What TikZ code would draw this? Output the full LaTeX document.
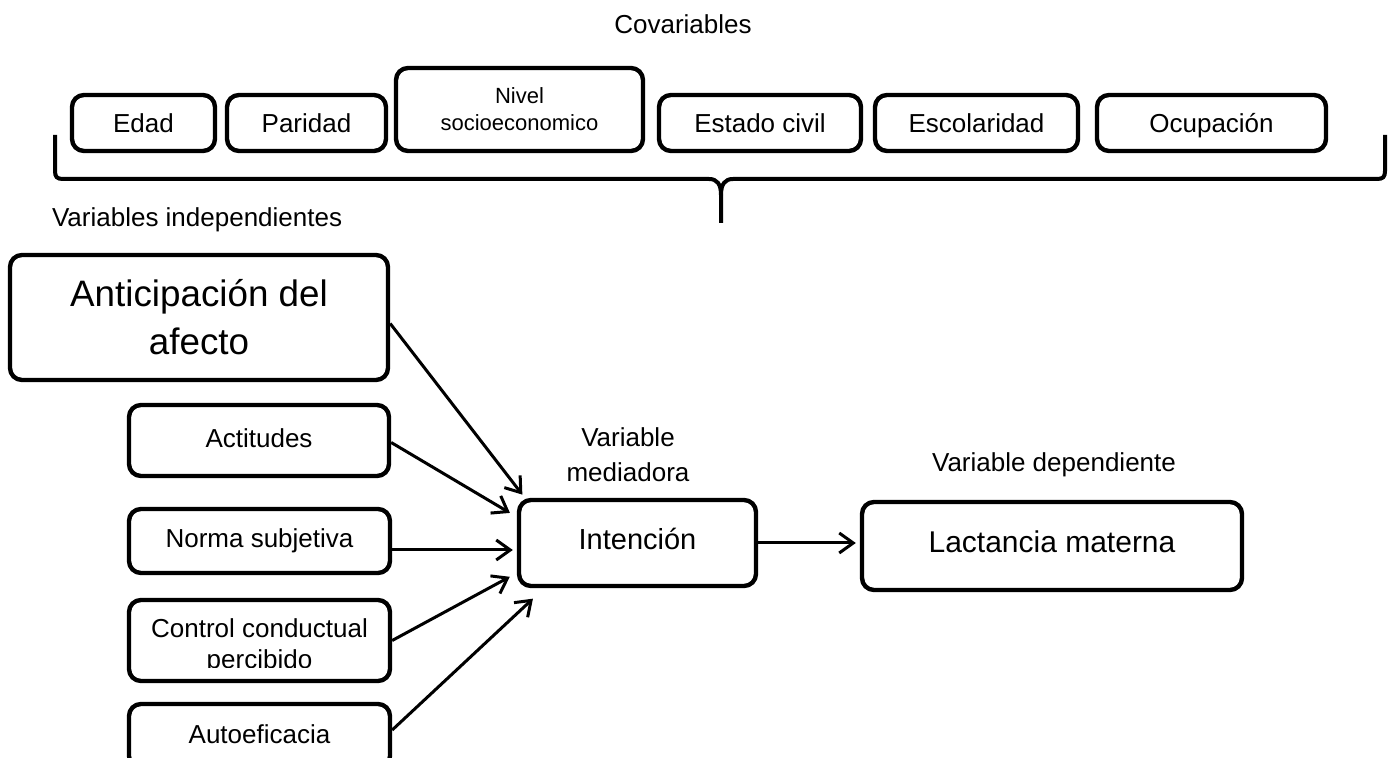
\documentclass[tikz,border=0pt]{standalone}
\usepackage{fontspec}
\setmainfont{Liberation Sans}
\usetikzlibrary{arrows.meta,calc}

\begin{document}
\begin{tikzpicture}[
    x=0.5pt, y=-0.5pt,
    box/.style={draw, line width=2.2pt, rounded corners=6pt, align=center, inner sep=0pt, font=\fontsize{13}{15.6}\selectfont},
    covbox/.style={box, minimum height=28pt, text height=9.5pt, text depth=0pt},
    indbox/.style={box, minimum width=130.5pt, text height=9.5pt, text depth=2.5pt},
    title/.style={font=\fontsize{13}{17.5}\selectfont, align=center},
    arrow/.style={-{Straight Barb[length=7pt,width=10pt]}, line width=1.5pt, shorten >=2pt},
    brace/.style={line width=2pt}
  ]
  \clip (0,0) rectangle (1392,758);

  % Covariables (top row)
  \node[title, anchor=base] (covtitle) at (683,34) {Covariables};

  \node[covbox, minimum width=71.5pt] (edad) at (143.5,123) {Edad};
  \node[covbox, minimum width=79.5pt] (parid) at (306.5,123) {Paridad};
  \node[box, minimum width=123.5pt, minimum height=41.5pt, font=\fontsize{11}{13.5}\selectfont] (nivel) at (519.5,109.5) {Nivel\\socioeconomico};
  \node[covbox, minimum width=101pt] (estado) at (760,123) {Estado civil};
  \node[covbox, minimum width=101.5pt] (escol) at (976.5,123) {Escolaridad};
  \node[covbox, minimum width=114.5pt] (ocup) at (1211.5,123) {Ocupación};

  % brace under the covariables
  \draw[brace] (55,135) -- (55,171) .. controls (55,177) and (57,179) .. (63,179) -- (709,179)
    .. controls (717,179) and (721,184) .. (721,195) -- (721,223);
  \draw[brace] (1385,135) -- (1385,171) .. controls (1385,177) and (1383,179) .. (1377,179) -- (733,179)
    .. controls (725,179) and (721,184) .. (721,195);

  % Independent variables (left)
  \node[title, anchor=base west] (indtitle) at (45,227) {Variables independientes};

  \node[box, minimum width=189pt, minimum height=62.5pt, font=\fontsize{18.4}{24}\selectfont] (antic) at (199,317.5) {Anticipación del\\afecto};
  \node[indbox, minimum width=130pt, minimum height=35.5pt] (actit) at (259,440.5) {Actitudes};
  \node[indbox, minimum height=32pt] (norma) at (259.5,541) {Norma subjetiva};
  \node[box, minimum width=130.5pt, minimum height=40.5pt, path picture={
      \clip (path picture bounding box.north west) rectangle ([yshift=7pt]path picture bounding box.south east);
      \node[align=center, font=\fontsize{13}{15.6}\selectfont] at ([yshift=-3pt]path picture bounding box.center) {Control conductual\\percibido};
    }] (control) at (259.5,640.5) {};
  \node[indbox, minimum height=32pt] (autoef) at (259.5,736) {Autoeficacia};

  % Mediator and dependent variable
  \node[title] (medtitle) at (628,455) {Variable\\mediadora};
  \node[box, minimum width=118.5pt, minimum height=43pt, font=\fontsize{14.5}{17}\selectfont, text height=10.6pt, text depth=3.6pt] (intn) at (637.5,543) {Intención};

  \node[title, anchor=base] (deptitle) at (1054,472) {Variable dependiente};
  \node[box, minimum width=190pt, minimum height=44pt, font=\fontsize{15}{18}\selectfont, text height=10.8pt, text depth=3.8pt] (lact) at (1052,546) {Lactancia materna};

  % arrows
  \draw[arrow] ($(antic.east)+(0,6)$) -- ($(intn.north west)+(8,0)$);
  \draw[arrow, shorten >=4pt] ($(actit.east)+(0,2)$) -- ($(intn.west)+(0,-26)$);
  \draw[arrow] ($(norma.east)+(0,9)$) -- ($(norma.east -| intn.west)+(0,9)$);
  \draw[arrow, shorten >=4pt] (control.east) -- ($(intn.west)+(0,30)$);
  \draw[arrow, shorten >=4pt] ($(autoef.east)+(0,-6)$) -- ($(intn.south west)+(22,5)$);
  \draw[arrow] (intn.east) -- (intn.east -| lact.west);

\end{tikzpicture}
\end{document}
